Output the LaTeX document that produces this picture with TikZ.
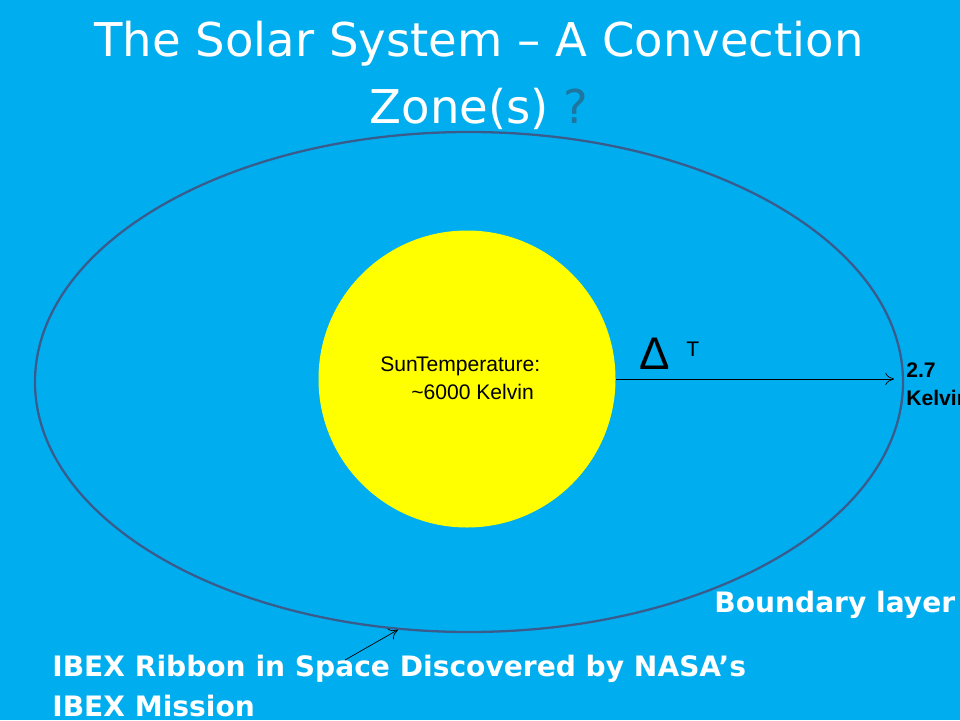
\documentclass[tikz,border=0pt]{standalone}
\usepackage{fontspec}
\setmainfont{Liberation Sans}
\newfontfamily\titlefont{DejaVu Sans}
\usetikzlibrary{arrows.meta,positioning,calc,shapes.geometric}
\definecolor{skyblue}{RGB}{0,174,239}
\definecolor{rimblue}{RGB}{58,92,140}
\definecolor{qmarkblue}{RGB}{30,118,160}
\definecolor{sunyellow}{RGB}{255,255,0}

\begin{document}
\begin{tikzpicture}[
		x=0.02cm, y=-0.02cm,
		title/.style={font=\titlefont\fontsize{26.5}{32}\selectfont, text=white, inner sep=0pt, anchor=base},
		note/.style={font=\titlefont\bfseries\fontsize{16}{19}\selectfont, text=white, inner sep=0pt, anchor=base west},
		small/.style={font=\fontsize{12}{14}\selectfont, inner sep=0pt, anchor=base west}
		]
		
		% background and frame
		\fill[skyblue] (0,0) rectangle (960,720);
		\useasboundingbox (0,0) rectangle (960,720);
		
		% Title
		\node[title] (T1) at (479,56) {The Solar System – A Convection};
		\node[title] (T2) at (479,123) {Zone(s) {\color{qmarkblue}?}};
		
		% -------------------------
		% Zone and Sun
		% -------------------------
		\node[draw=rimblue, line width=1.3pt, ellipse, minimum width=868*0.02cm, minimum height=500*0.02cm, inner sep=0pt] (zone) at (469,382) {};
		\node[circle, fill=sunyellow, minimum size=297*0.02cm, inner sep=0pt] (sun) at (467,379) {};
		\node[small] (S1) at (380,371) {Sun\kern-1ptTemperature:};
		\node[small] (S2) at (411,399) {\textasciitilde6000 Kelvin};
		
		% -------------------------
		% Temperature difference
		% -------------------------
		\node[inner sep=0pt, anchor=base, font=\fontsize{26}{30}\selectfont] (D) at (655,369) {Δ};
		\node[small] (DT) at (686,356) {T};
		\node[small, font=\bfseries\fontsize{12}{14}\selectfont] (K1) at (906,377) {2.7};
		\node[small, font=\bfseries\fontsize{12}{14}\selectfont] (K2) at (906,405) {Kelvin};
		
		% -------------------------
		% Labels
		% -------------------------
		\node[note] (B) at (714,612) {Boundary layer};
		\node[note] (I1) at (52,676) {IBEX Ribbon in Space Discovered by NASA’s};
		\node[note] (I2) at (52,716) {IBEX Mission};
		\coordinate (ibex) at (345,660);
		
		% -------------------------
		% Arrows
		% -------------------------
		\draw[-{To[length=5pt,width=7pt]}, thin, shorten >=10*0.02cm] (sun.east) -- (sun.east -| zone.east);
		\draw[-{To[length=5pt,width=7pt]}, thin] (ibex) -- (zone.254);
		
	\end{tikzpicture}
\end{document}
